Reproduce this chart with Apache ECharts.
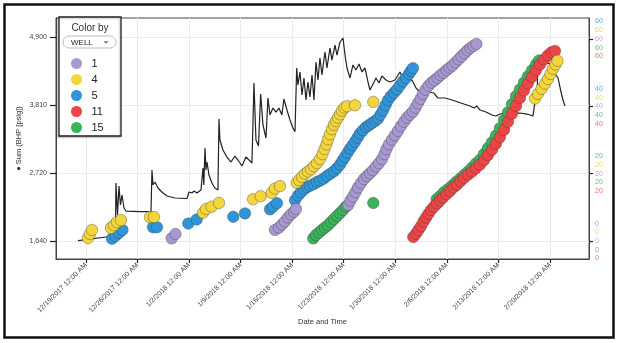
<!DOCTYPE html>
<html><head><meta charset="utf-8">
<script src="https://cdn.jsdelivr.net/npm/echarts@6/dist/echarts.min.js"></script>
<style>html,body{margin:0;padding:0;background:#fff}#c{width:620px;height:343px}</style>
</head><body><div id="c"></div>
<script>
// ---- data (x = days since 12/19/2017) ----
const wellNames = ['1', '4', '5', '11', '15'];
const wellColors = { '1': '#a898d2', '4': '#f4d53c', '5': '#2f95d8', '11': '#ed4545', '15': '#3bb35b' };
const wellLabelColors = { '1': '#b9addc', '4': '#f1d86a', '5': '#62aee3', '11': '#ef7070', '15': '#66c283' };
const xTickDays = [0, 7, 14, 21, 28, 35, 42, 49, 56, 63];
const leftTickValues = [1640, 2726.67, 3813.33, 4900];
const leftTickLabels = ['1,640', '2,720', '3,810', '4,900'];
const rightTickValues = [0, 20, 40, 60];

const bhp = [[-1.09,1645],[2.72,1704],[4.0,1704],[4.07,2567],[4.28,2055],[4.48,2519],[4.68,2215],[4.89,2375],[5.16,2167],[5.43,2119],[7.33,2108],[8.83,2108],[8.96,2775],[9.1,2535],[9.37,2583],[9.78,2487],[10.3,2423],[11.0,2359],[12.08,2327],[13.71,2319],[13.99,2423],[14.39,2407],[14.66,2439],[15.07,2407],[15.61,2455],[15.89,2807],[16.0,2535],[16.16,3126],[16.29,2775],[16.43,2902],[16.7,2695],[17.1,2567],[17.5,2487],[17.92,2455],[18.06,3590],[18.19,3254],[18.6,3094],[19.14,2982],[19.69,2902],[20.23,2998],[20.64,2934],[21.18,2838],[21.72,2982],[22.13,2934],[22.54,2887],[22.81,4165],[23.08,3254],[23.42,3158],[23.72,3989],[24.03,3494],[24.44,3286],[24.71,3925],[24.98,3653],[25.39,3765],[25.8,3701],[26.2,3765],[26.6,3653],[26.88,3909],[27.29,3733],[27.7,3574],[28.1,3446],[28.38,3387],[28.61,4405],[28.78,4133],[29.06,4341],[29.33,3973],[29.6,4245],[29.87,3893],[30.14,4181],[30.41,3941],[30.69,4293],[30.96,3893],[31.23,4500],[31.5,4213],[31.77,4564],[32.04,4293],[32.45,4660],[32.72,4405],[33.13,4724],[33.4,4532],[33.81,4772],[34.08,4612],[34.49,4820],[34.9,4884],[35.17,4612],[35.44,4405],[35.85,4245],[36.25,4453],[36.66,4373],[37.07,4469],[37.48,4341],[37.88,4405],[38.29,4181],[38.56,4053],[38.97,4149],[39.38,4245],[39.78,4165],[40.19,4277],[40.73,4213],[41.28,4181],[41.96,4213],[42.63,4341],[43.31,4181],[44.26,4213],[44.81,4085],[45.35,4021],[46.44,4021],[47.25,4005],[47.79,3925],[48.74,3925],[49.69,3893],[50.51,3861],[51.32,3829],[52.14,3797],[52.68,3765],[53.09,3797],[53.5,3733],[54.31,3701],[55.13,3653],[55.67,3637],[56.21,3669],[56.89,3685],[57.84,3685],[58.93,3685],[59.88,3669],[60.69,3637],[60.96,3861],[61.24,3893],[61.37,4540],[62.19,4500],[63.0,4470],[63.41,4400],[63.68,4309],[64.09,4245],[64.5,4021],[64.77,3893],[65.04,3797]];

const well1 = [[11.64,0.8],[12.15,2.1],[25.66,3.3],[26.21,4.0],[26.61,4.9],[27.02,5.8],[27.43,7.0],[27.83,7.9],[28.24,8.7],[28.51,9.5],[35.62,10.7],[35.91,12.0],[36.25,13.2],[36.59,14.5],[36.93,15.9],[37.34,17.2],[37.75,18.4],[38.15,19.3],[38.56,20.1],[38.97,21.0],[39.38,22.1],[39.78,23.1],[40.19,24.3],[40.53,25.8],[40.8,27.3],[41.14,28.7],[41.55,30.1],[41.96,31.4],[42.36,32.7],[42.77,34.1],[43.18,35.4],[43.59,36.6],[43.99,37.5],[44.4,38.4],[44.74,39.6],[45.08,40.9],[45.42,42.2],[45.76,43.6],[46.1,44.9],[46.51,46.1],[46.91,47.0],[47.32,47.7],[47.73,48.4],[48.13,49.2],[48.54,49.9],[48.95,50.7],[49.36,51.4],[49.77,52.1],[50.17,53.0],[50.58,53.9],[50.99,54.8],[51.39,55.7],[51.8,56.6],[52.21,57.3],[52.61,57.9],[53.02,58.5]];

const well4 = [[0.27,0.9],[0.54,2.1],[0.81,3.3],[3.39,3.9],[3.8,4.7],[4.21,5.6],[4.75,6.2],[8.69,7.1],[9.23,7.1],[15.89,8.4],[16.29,9.5],[17.07,10.2],[18.06,11.3],[22.68,12.4],[23.72,13.3],[25.21,14.3],[25.66,15.6],[26.34,16.3],[28.61,17.3],[28.92,18.1],[29.33,19.0],[29.74,20.0],[30.14,20.6],[30.55,21.3],[30.96,22.2],[31.37,23.1],[31.77,24.3],[32.11,25.8],[32.38,27.3],[32.66,28.7],[32.86,30.2],[33.13,31.7],[33.4,33.2],[33.67,34.5],[33.94,35.6],[34.22,36.6],[34.49,37.6],[34.76,38.7],[35.1,39.6],[35.44,40.0],[36.53,40.3],[39.01,41.3],[60.97,42.3],[61.37,43.7],[61.85,45.2],[62.32,46.7],[62.73,48.1],[63.07,49.6],[63.41,51.1],[63.75,52.4],[64.02,53.5]];

const well5 = [[3.53,0.7],[4.01,1.5],[4.48,2.4],[4.96,3.3],[9.1,4.1],[9.64,4.1],[13.89,5.2],[15.03,6.4],[20.0,7.2],[21.59,8.2],[24.98,9.4],[25.39,10.2],[25.93,11.2],[28.38,12.1],[28.79,13.5],[29.19,14.5],[29.6,15.3],[30.01,16.0],[30.41,16.4],[30.89,16.9],[31.37,17.5],[31.77,17.9],[32.25,18.5],[32.72,19.3],[33.2,20.0],[33.67,20.7],[34.08,21.6],[34.49,22.7],[34.83,23.9],[35.17,25.0],[35.51,26.2],[35.85,27.4],[36.19,28.4],[36.53,29.5],[36.87,30.7],[37.2,31.9],[37.61,32.9],[38.02,33.8],[38.43,34.4],[38.83,35.0],[39.24,35.6],[39.65,36.3],[39.99,37.5],[40.33,38.8],[40.67,40.3],[41.01,41.8],[41.41,43.0],[41.82,44.0],[42.23,45.0],[42.63,46.2],[43.04,47.4],[43.45,48.4],[43.86,49.6],[44.13,50.5],[44.4,51.3]];

const well11 = [[44.44,1.2],[44.81,2.2],[45.15,3.3],[45.49,4.4],[45.83,5.8],[46.17,7.0],[46.51,8.1],[46.84,9.2],[47.25,10.2],[47.66,11.1],[48.07,12.0],[48.47,12.9],[48.95,13.9],[49.42,14.8],[49.9,15.9],[50.37,16.7],[50.85,17.8],[51.32,18.7],[51.87,19.7],[52.41,20.6],[52.95,21.6],[53.5,22.7],[54.04,24.0],[54.58,25.5],[55.13,27.1],[55.67,28.9],[56.21,30.8],[56.76,33.0],[57.3,35.4],[57.84,37.8],[58.39,40.1],[58.93,42.5],[59.47,44.7],[60.01,46.8],[60.56,48.7],[61.1,50.7],[61.64,52.4],[62.19,53.9],[62.73,55.1],[63.2,56.0],[63.68,56.4]];

const well15 = [[30.86,0.8],[31.23,1.8],[31.64,2.5],[32.05,3.3],[32.45,4.0],[32.86,4.7],[33.27,5.6],[33.67,6.5],[34.08,7.4],[34.49,8.3],[34.9,9.2],[35.3,10.2],[39.01,11.3],[47.62,12.4],[48.07,13.3],[48.61,14.5],[49.15,15.4],[49.69,16.4],[50.24,17.5],[50.78,18.5],[51.32,19.6],[51.87,20.6],[52.41,21.8],[52.95,23.0],[53.5,24.1],[54.04,25.8],[54.58,27.6],[55.13,29.3],[55.67,31.3],[56.21,33.5],[56.76,35.9],[57.3,38.2],[57.84,40.6],[58.39,43.0],[58.93,45.0],[59.47,47.0],[60.01,48.9],[60.56,50.7],[61.1,52.4],[61.51,53.6]];

const wellData = { '1': well1, '4': well4, '5': well5, '11': well11, '15': well15 };
const drawOrder = ['15', '11', '5', '4', '1'];

// ---- chart ----
const FONT = '"Liberation Sans", Arial, sans-serif';
const baseDate = Date.UTC(2017, 11, 19);
function dayLabel(d) {
  const t = new Date(baseDate + Math.round(d) * 86400000);
  return (t.getUTCMonth() + 1) + '/' + t.getUTCDate() + '/' + t.getUTCFullYear() + ' 12:00 AM';
}
const rich = {};
const rkeys = { '5': 'b', '4': 'y', '1': 'p', '15': 'g', '11': 'r' };
['5', '4', '1', '15', '11'].forEach(w => {
  rich[rkeys[w]] = { color: wellLabelColors[w], fontSize: 7, lineHeight: 8.7, fontFamily: FONT };
});

const chart = echarts.init(document.getElementById('c'), null, { renderer: 'canvas' });
const series = [{
  type: 'line', name: 'BHP', yAxisIndex: 0, data: bhp, showSymbol: false, symbol: 'none',
  lineStyle: { color: '#222', width: 1.2 }, z: 1, silent: true
}];
drawOrder.forEach(w => {
  series.push({
    type: 'scatter', name: w, yAxisIndex: 1, data: wellData[w], symbolSize: 11.5, z: 2,
    itemStyle: { color: wellColors[w], borderColor: 'rgba(60,60,60,0.55)', borderWidth: 0.7, opacity: 1 }
  });
});

chart.setOption({
  animation: false,
  backgroundColor: '#fff',
  grid: { left: 56, top: 18, width: 533, height: 241, show: true, borderColor: '#444', borderWidth: 1, containLabel: false, outerBoundsMode: 'none' },
  xAxis: {
    type: 'value', min: -4.07, max: 68.3,
    name: 'Date and Time', nameLocation: 'middle', nameGap: 59, nameMoveOverlap: false,
    nameTextStyle: { fontSize: 7.5, color: '#333', fontFamily: FONT },
    axisLine: { show: true, onZero: false, lineStyle: { color: '#444' } },
    axisTick: { show: true, length: 4, customValues: xTickDays, lineStyle: { color: '#222', width: 1.2 } },
    axisLabel: { customValues: xTickDays, rotate: 45, fontSize: 7, color: '#444', margin: 5, fontFamily: FONT, formatter: v => dayLabel(v) },
    splitLine: { show: true, lineStyle: { color: '#ebebeb', width: 1 } }
  },
  yAxis: [{
    type: 'value', position: 'left', min: 1352.4, max: 5203.6,
    name: '● Sum (BHP [psig])', nameLocation: 'middle', nameRotate: 90, nameGap: 33, nameMoveOverlap: false,
    nameTextStyle: { fontSize: 7.5, color: '#333', fontFamily: FONT },
    axisLine: { show: true, onZero: false, lineStyle: { color: '#444' } },
    axisTick: { show: true, length: 6, customValues: leftTickValues, lineStyle: { color: '#222', width: 1.2 } },
    axisLabel: { customValues: leftTickValues, fontSize: 7, color: '#444', margin: 9, fontFamily: FONT,
      formatter: v => { const i = leftTickValues.findIndex(t => Math.abs(t - v) < 1); return i >= 0 ? leftTickLabels[i] : ''; } },
    splitLine: { show: true, lineStyle: { color: '#ebebeb', width: 1 } }
  }, {
    type: 'value', position: 'right', min: -5.33, max: 66.2,
    axisLine: { show: true, onZero: false, lineStyle: { color: '#444' } },
    axisTick: { show: true, length: 4, customValues: rightTickValues, lineStyle: { color: '#222', width: 1.2 } },
    axisLabel: { customValues: rightTickValues, margin: 6, align: 'left', rich: rich,
      formatter: v => '{b|' + v + '}\n{y|' + v + '}\n{p|' + v + '}\n{g|' + v + '}\n{r|' + v + '}' },
    splitLine: { show: false }
  }],
  legend: {
    data: wellNames, orient: 'vertical', left: 66, top: 53, icon: 'circle',
    itemWidth: 20, itemHeight: 11, itemGap: 5, itemStyle: { borderWidth: 0 },
    textStyle: { fontSize: 11, color: '#222', lineHeight: 11, fontFamily: FONT },
    selectedMode: false, z: 12
  },
  graphic: [
    { type: 'rect', z: 20, silent: true, shape: { x: 4.5, y: 4.5, width: 609, height: 333 }, style: { fill: 'none', stroke: '#111', lineWidth: 2.5 } },
    { type: 'rect', z: 10, silent: true, shape: { x: 59, y: 17, width: 62, height: 119 }, style: { fill: '#fff', stroke: '#222', lineWidth: 1.3, shadowBlur: 2, shadowColor: 'rgba(0,0,0,0.25)', shadowOffsetX: -1, shadowOffsetY: 1 } },
    { type: 'text', z: 11, silent: true, style: { x: 90, y: 28, text: 'Color by', fill: '#333', font: '10px ' + FONT, align: 'center', verticalAlign: 'middle' } },
    { type: 'rect', z: 11, silent: true, shape: { x: 63, y: 36, width: 53, height: 12, r: 6 }, style: { fill: '#fff', stroke: '#bdbdbd', lineWidth: 1 } },
    { type: 'text', z: 11, silent: true, style: { x: 71, y: 42.5, text: 'WELL', fill: '#222', font: '8px ' + FONT, align: 'left', verticalAlign: 'middle' } },
    { type: 'polygon', z: 11, silent: true, shape: { points: [[103.5, 41], [108.5, 41], [106, 44]] }, style: { fill: '#888' } }
  ],
  series: series
});
</script></body></html>
